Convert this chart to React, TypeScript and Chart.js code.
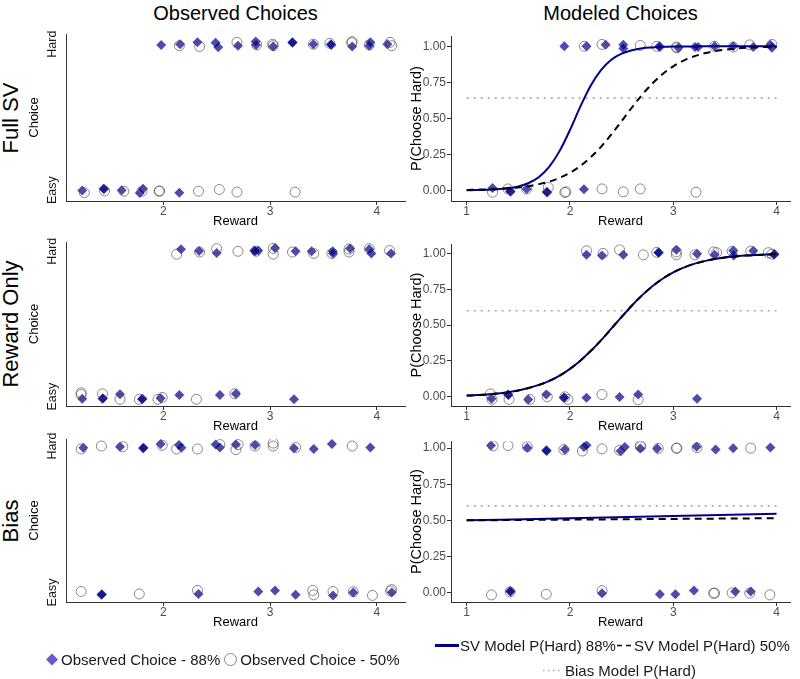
import React, { useEffect, useRef } from "react";
import { Chart, registerables } from "chart.js";
Chart.register(...registerables);

const FONT = "'Liberation Sans', Arial, Helvetica, sans-serif";
Chart.defaults.font.family = FONT;

type Pt = [number, number];

// ---------- text ----------
const colTitles = ["Observed Choices", "Modeled Choices"];
const rowNames = ["Full SV", "Reward Only", "Bias"];
const choiceTickValues = [1, 0];
const choiceTickLabels = ["Hard", "Easy"];
const leftXTicks = [2, 3, 4];
const rightXTicks = [1, 2, 3, 4];
const probTicks = [0, 0.25, 0.5, 0.75, 1];

// ---------- model curves ----------
const curveX = [1.0, 1.1, 1.2, 1.3, 1.4, 1.5, 1.6, 1.7, 1.8, 1.9, 2.0, 2.1, 2.2, 2.3, 2.4, 2.5, 2.6, 2.7, 2.8, 2.9, 3.0, 3.1, 3.2, 3.3, 3.4, 3.5, 3.6, 3.7, 3.8, 3.9, 4.0];
const fullSV88 = [0.001, 0.002, 0.004, 0.008, 0.014, 0.027, 0.051, 0.093, 0.165, 0.274, 0.419, 0.581, 0.726, 0.835, 0.907, 0.949, 0.973, 0.986, 0.992, 0.996, 0.998, 0.999, 0.999, 1.0, 1.0, 1.0, 1.0, 1.0, 1.0, 1.0, 1.0];
const fullSV50 = [0.003, 0.005, 0.007, 0.010, 0.014, 0.020, 0.029, 0.043, 0.061, 0.087, 0.122, 0.169, 0.229, 0.302, 0.388, 0.481, 0.575, 0.665, 0.743, 0.809, 0.861, 0.901, 0.930, 0.951, 0.966, 0.976, 0.984, 0.989, 0.992, 0.995, 0.996];
const rewardOnly88 = [0.009, 0.012, 0.017, 0.023, 0.032, 0.044, 0.061, 0.083, 0.111, 0.148, 0.195, 0.252, 0.319, 0.394, 0.475, 0.557, 0.637, 0.709, 0.772, 0.825, 0.868, 0.901, 0.927, 0.946, 0.961, 0.972, 0.979, 0.985, 0.989, 0.992, 0.994];
const rewardOnly50 = [0.009, 0.012, 0.017, 0.023, 0.032, 0.044, 0.061, 0.083, 0.111, 0.148, 0.195, 0.252, 0.319, 0.394, 0.475, 0.557, 0.637, 0.709, 0.772, 0.825, 0.868, 0.901, 0.927, 0.946, 0.961, 0.972, 0.979, 0.985, 0.989, 0.992, 0.994];
const biasX = [1, 2, 3, 4];
const bias88 = [0.5, 0.515, 0.53, 0.545];
const bias50 = [0.5, 0.505, 0.51, 0.515];
const biasLevelX = [1, 4];
const biasLevel = [0.64, 0.6, 0.6];

// ---------- observed points (reward, choice with jitter) ----------
const obsFull88: Pt[] = [[1.98, 0.995], [2.157, 1.0], [2.32, 1.013], [2.49, 1.01], [2.515, 0.98], [2.7, 0.99], [2.866, 1.018], [2.87, 0.995], [3.03, 0.985], [3.21, 1.013], [3.21, 1.01], [3.406, 1.0], [3.57, 1.0], [3.575, 0.995], [3.77, 0.985], [3.94, 1.013], [3.93, 0.99], [4.1, 1.0],
  [1.24, -0.002], [1.44, 0.01], [1.445, 0.008], [1.61, 0.0], [1.78, -0.02], [1.81, 0.01], [2.15, -0.018]];
const obsFull50: Pt[] = [[2.15, 0.99], [2.34, 0.985], [2.69, 1.013], [2.875, 0.995], [3.025, 1.0], [3.03, 0.99], [3.406, 1.0], [3.56, 1.006], [3.77, 1.018], [3.765, 1.01], [3.93, 0.995], [4.125, 1.013], [4.14, 0.99],
  [1.26, -0.017], [1.45, -0.005], [1.63, -0.007], [1.8, -0.007], [1.96, -0.007], [1.965, -0.005], [2.33, -0.007], [2.525, 0.005], [2.69, -0.013], [3.235, -0.013]];
const obsReward88: Pt[] = [[2.166, 1.014], [2.335, 1.002], [2.5, 0.988], [2.853, 1.005], [2.89, 1.005], [2.86, 1.0], [3.047, 1.023], [3.24, 1.0], [3.39, 1.0], [3.588, 1.0], [3.59, 0.985], [3.75, 1.02], [3.93, 1.014], [3.95, 0.985], [4.134, 0.985],
  [1.24, -0.014], [1.43, -0.014], [1.435, -0.01], [1.594, 0.016], [1.8, -0.018], [1.805, -0.014], [1.975, -0.01], [2.15, 0.011], [2.53, 0.011], [2.68, 0.02], [3.225, -0.018]];
const obsReward50: Pt[] = [[2.125, 0.98], [2.34, 0.995], [2.5, 1.018], [2.7, 1.0], [2.87, 1.0], [3.03, 1.02], [3.03, 0.98], [3.21, 0.995], [3.41, 0.985], [3.58, 0.985], [3.74, 0.995], [3.74, 1.015], [3.93, 1.018], [4.12, 1.005],
  [1.23, 0.027], [1.23, 0.015], [1.43, 0.02], [1.594, -0.018], [1.775, -0.018], [1.95, -0.018], [1.99, -0.005], [2.31, -0.018], [2.67, 0.02]];
const obsBias88: Pt[] = [[1.25, 0.988], [1.594, 0.995], [1.81, 0.985], [1.815, 0.988], [1.975, 1.014], [2.147, 1.007], [2.17, 0.988], [2.49, 1.01], [2.53, 0.99], [2.68, 1.01], [2.86, 1.007], [3.225, 0.985], [3.41, 0.98], [3.58, 1.014], [3.94, 0.99],
  [1.42, -0.016], [1.425, -0.012], [2.33, -0.011], [2.89, 0.007], [3.047, 0.014], [3.24, -0.016], [3.59, -0.02], [3.78, 0.0], [4.14, 0.0]];
const obsBias50: Pt[] = [[1.23, 0.98], [1.42, 1.0], [1.62, 0.995], [1.99, 1.005], [2.125, 0.98], [2.32, 0.98], [2.53, 1.01], [2.68, 0.975], [2.7, 1.01], [2.86, 1.0], [3.03, 1.02], [3.03, 1.0], [3.24, 0.99], [3.77, 1.0],
  [1.23, 0.007], [1.775, -0.01], [2.32, 0.014], [3.4, 0.014], [3.41, -0.016], [3.59, 0.007], [3.78, 0.005], [3.96, -0.02], [4.14, 0.02], [4.13, 0.01]];

const modFull88: Pt[] = [[1.945, 1.0], [2.16, 1.0], [2.345, 1.01], [2.516, 1.01], [2.516, 0.985], [2.865, 1.0], [2.87, 0.995], [3.05, 0.99], [3.21, 0.995], [3.24, 0.995], [3.4, 1.0], [3.58, 1.0], [3.775, 0.995], [3.94, 1.01], [3.955, 0.99],
  [1.25, 0.016], [1.42, -0.005], [1.425, -0.01], [1.58, 0.01], [1.775, -0.01], [1.78, -0.015], [2.135, 0.007]];
const modFull50: Pt[] = [[2.14, 1.0], [2.31, 1.013], [2.68, 1.006], [2.84, 1.0], [3.03, 0.995], [3.035, 0.99], [3.4, 1.0], [3.58, 0.995], [3.74, 1.01], [3.955, 1.013],
  [1.25, -0.013], [1.4, 0.01], [1.58, 0.01], [1.79, 0.02], [1.95, -0.015], [1.96, -0.01], [2.31, 0.01], [2.516, -0.01], [2.68, 0.01], [3.22, -0.013]];
const modReward88: Pt[] = [[2.16, 0.99], [2.31, 0.985], [2.516, 0.99], [2.855, 1.007], [2.86, 1.005], [3.03, 1.025], [3.23, 0.997], [3.4, 0.99], [3.58, 1.018], [3.585, 0.985], [3.775, 1.018], [3.975, 0.99], [3.98, 0.995],
  [1.24, -0.014], [1.4, 0.016], [1.405, 0.012], [1.596, -0.018], [1.77, 0.016], [1.94, -0.007], [1.945, -0.004], [2.16, -0.007], [2.48, -0.002], [2.66, 0.016], [3.23, -0.014]];
const modReward50: Pt[] = [[2.16, 1.018], [2.32, 1.0], [2.48, 1.025], [2.71, 0.99], [2.84, 1.007], [3.03, 0.99], [3.03, 1.01], [3.21, 0.99], [3.39, 1.01], [3.42, 1.005], [3.57, 1.015], [3.75, 1.015], [3.92, 1.005], [3.955, 0.995],
  [1.23, 0.02], [1.245, -0.018], [1.41, -0.018], [1.61, -0.018], [1.78, 0.0], [1.95, 0.0], [1.98, -0.018], [2.31, 0.016], [2.66, -0.02]];
const modBias88: Pt[] = [[1.235, 1.018], [1.587, 1.003], [1.77, 0.985], [1.775, 0.98], [1.95, 0.99], [2.135, 1.007], [2.16, 1.02], [2.49, 0.98], [2.53, 1.007], [2.68, 0.998], [2.845, 0.998], [3.226, 1.01], [3.41, 0.99], [3.58, 1.0], [3.94, 1.005],
  [1.42, 0.011], [1.425, 0.006], [2.31, -0.004], [2.87, -0.011], [3.02, -0.011], [3.2, 0.014], [3.6, 0.007], [3.75, 0.007]];
const modBias50: Pt[] = [[1.255, 1.015], [1.4, 1.018], [1.587, 1.01], [1.94, 0.99], [2.12, 0.98], [2.31, 0.995], [2.48, 0.985], [2.68, 1.018], [2.685, 1.01], [2.855, 0.998], [3.03, 1.0], [3.035, 1.0], [3.23, 1.003], [3.75, 1.0],
  [1.24, -0.016], [1.42, 0.005], [1.77, -0.011], [2.31, 0.014], [3.39, -0.004], [3.4, -0.004], [3.57, -0.002], [3.74, -0.004], [3.935, -0.016]];

const legendLabels = ["Observed Choice - 88%", "Observed Choice - 50%", "SV Model P(Hard) 88%", "SV Model P(Hard) 50%", "Bias Model P(Hard)"];

// ---------- layout (pixels) ----------
const ROWS = [
  { top: 34, bottom: 201, yMin: -0.074, yMax: 1.07 },
  { top: 242, bottom: 406, yMin: -0.064, yMax: 1.064 },
  { top: 439, bottom: 602, yMin: -0.065, yMax: 1.048 },
];
const COLS = [
  { canvasLeft: 27, plotLeft: 66, plotRight: 405, xMin: 1.088, xMax: 4.265 },
  { canvasLeft: 408, plotLeft: 451, plotRight: 790, xMin: 0.848, xMax: 4.13 },
];
const PADT = 6;
const PADR = 8;
const XH = 28;

const DIAMOND = "rgba(0,0,139,0.7)";
const CIRCLE = "rgba(70,70,70,0.62)";
const AXIS = "#333333";
const TICKTXT = "#4d4d4d";

const obs88 = [obsFull88, obsReward88, obsBias88];
const obs50 = [obsFull50, obsReward50, obsBias50];
const mod88 = [modFull88, modReward88, modBias88];
const mod50 = [modFull50, modReward50, modBias50];
const curveXs = [curveX, curveX, biasX];
const curves88 = [fullSV88, rewardOnly88, bias88];
const curves50 = [fullSV50, rewardOnly50, bias50];

const toXY = (p: Pt[]) => p.map(([x, y]) => ({ x, y }));

const choiceTickPlugin = {
  id: "choiceTicks",
  afterDraw(chart: any) {
    const ys = chart.scales.y;
    const ctx = chart.ctx;
    ctx.save();
    ctx.font = `12.5px ${FONT}`;
    ctx.fillStyle = "#1a1a1a";
    ctx.textAlign = "center";
    ctx.textBaseline = "middle";
    choiceTickValues.forEach((v, i) => {
      ctx.save();
      ctx.translate(chart.chartArea.left - 13, ys.getPixelForValue(v));
      ctx.rotate(-Math.PI / 2);
      ctx.fillText(choiceTickLabels[i], 0, 0);
      ctx.restore();
    });
    ctx.restore();
  },
};

function canvasBox(ci: number, ri: number) {
  const c = COLS[ci];
  const r = ROWS[ri];
  const top = r.top - PADT;
  return { left: c.canvasLeft, top, width: c.plotRight + PADR - c.canvasLeft, height: r.bottom + XH - top };
}

function buildConfig(ci: number, ri: number): any {
  const c = COLS[ci];
  const r = ROWS[ri];
  const datasets: any[] = [];
  if (ci === 1) {
    const xs = curveXs[ri];
    datasets.push({
      data: xs.map((x, i) => ({ x, y: curves50[ri][i] })),
      showLine: true, borderColor: "#000000", borderWidth: 2, borderDash: [7, 5],
      pointRadius: 0, pointHoverRadius: 0, cubicInterpolationMode: "monotone", fill: false,
    });
    datasets.push({
      data: xs.map((x, i) => ({ x, y: curves88[ri][i] })),
      showLine: true, borderColor: "#00008B", borderWidth: 2,
      pointRadius: 0, pointHoverRadius: 0, cubicInterpolationMode: "monotone", fill: false,
    });
    datasets.push({
      data: biasLevelX.map((x) => ({ x, y: biasLevel[ri] })),
      showLine: true, borderColor: "#a9a9a9", borderWidth: 1.6, borderDash: [2, 5],
      pointRadius: 0, pointHoverRadius: 0, fill: false,
    });
  }
  const p50 = ci === 0 ? obs50[ri] : mod50[ri];
  const p88 = ci === 0 ? obs88[ri] : mod88[ri];
  datasets.push({
    data: toXY(p50), pointStyle: "circle", pointRadius: 5, pointHoverRadius: 5,
    backgroundColor: "rgba(0,0,0,0)", borderColor: CIRCLE, borderWidth: 1,
  });
  datasets.push({
    data: toXY(p88), pointStyle: "rectRot", pointRadius: 5, pointHoverRadius: 5,
    backgroundColor: DIAMOND, borderColor: DIAMOND, borderWidth: 0,
  });

  const xTicks = ci === 0 ? leftXTicks : rightXTicks;
  return {
    type: "scatter",
    data: { datasets },
    plugins: ci === 0 ? [choiceTickPlugin] : [],
    options: {
      animation: false,
      responsive: false,
      events: [],
      layout: { padding: { top: PADT, right: PADR, left: 0, bottom: 0 } },
      plugins: { legend: { display: false }, tooltip: { enabled: false } },
      scales: {
        x: {
          type: "linear",
          min: c.xMin,
          max: c.xMax,
          afterFit: (s: any) => { s.height = XH; },
          afterBuildTicks: (s: any) => { s.ticks = xTicks.map((v) => ({ value: v })); },
          ticks: { color: TICKTXT, font: { size: 12, lineHeight: 1 }, padding: 1, maxRotation: 0, callback: (v: any) => String(v) },
          grid: { display: true, drawOnChartArea: false, drawTicks: true, tickLength: 4, color: AXIS },
          border: { display: true, color: AXIS, width: 1 },
          title: { display: true, text: "Reward", color: "#000", font: { size: 13 }, padding: 0 },
        },
        y: {
          type: "linear",
          min: r.yMin,
          max: r.yMax,
          afterFit: (s: any) => { s.width = c.plotLeft - c.canvasLeft; },
          afterBuildTicks: (s: any) => {
            s.ticks = (ci === 0 ? choiceTickValues : probTicks).map((v) => ({ value: v }));
          },
          ticks: ci === 0
            ? { display: false }
            : { color: TICKTXT, font: { size: 12 }, padding: 1, callback: (v: any) => Number(v).toFixed(2) },
          grid: ci === 0
            ? { display: false }
            : { display: true, drawOnChartArea: false, drawTicks: true, tickLength: 4, color: AXIS },
          border: { display: true, color: AXIS, width: 1 },
          title: {
            display: true,
            text: ci === 0 ? "Choice" : "P(Choose Hard)",
            color: "#000",
            font: { size: ci === 0 ? 13 : 14.5 },
            padding: 0,
          },
        },
      },
    },
  };
}

const PANELS = [0, 1, 2].flatMap((ri) => [0, 1].map((ci) => ({ ci, ri })));

function Panel({ ci, ri }: { ci: number; ri: number }) {
  const ref = useRef<HTMLCanvasElement | null>(null);
  const box = canvasBox(ci, ri);
  useEffect(() => {
    if (!ref.current) return;
    const chart = new Chart(ref.current, buildConfig(ci, ri));
    return () => chart.destroy();
  }, [ci, ri]);
  return (
    <canvas
      ref={ref}
      width={box.width}
      height={box.height}
      style={{ position: "absolute", left: box.left, top: box.top, width: box.width, height: box.height }}
    />
  );
}

const textBase: React.CSSProperties = { position: "absolute", fontFamily: FONT, color: "#000", whiteSpace: "nowrap" };

export default function App() {
  return (
    <div style={{ position: "fixed", left: 0, top: 0, width: 800, height: 679, background: "#fff", overflow: "hidden" }}>
      {colTitles.map((t, i) => (
        <div key={t} style={{ ...textBase, left: COLS[i].plotLeft, width: COLS[i].plotRight - COLS[i].plotLeft, top: 1, textAlign: "center", fontSize: 20, lineHeight: "24px" }}>{t}</div>
      ))}
      {rowNames.map((t, i) => (
        <div key={t} style={{ ...textBase, left: 11, top: (ROWS[i].top + ROWS[i].bottom) / 2, transform: "translate(-50%,-50%) rotate(-90deg)", fontSize: 22, lineHeight: "22px" }}>{t}</div>
      ))}
      {PANELS.map(({ ci, ri }) => <Panel key={`${ci}-${ri}`} ci={ci} ri={ri} />)}

      {/* legend: observed */}
      <div style={{ ...textBase, left: 45, top: 659, transform: "translateY(-50%)", display: "flex", alignItems: "center", fontSize: 15, color: "#1a1a1a" }}>
        <svg width={14} height={14} style={{ marginRight: 2 }}>
          <polygon points="7,1 13,7 7,13 1,7" fill="#6a5acd" />
        </svg>
        <span>{legendLabels[0]}</span>
        <svg width={15} height={14} style={{ marginLeft: 3, marginRight: 2 }}>
          <circle cx={7.5} cy={7} r={6} fill="none" stroke="#888" strokeWidth={1} />
        </svg>
        <span>{legendLabels[1]}</span>
      </div>

      {/* legend: model lines */}
      <div style={{ ...textBase, left: 435, top: 645, transform: "translateY(-50%)", display: "flex", alignItems: "center", fontSize: 15, color: "#1a1a1a" }}>
        <svg width={24} height={6} style={{ marginRight: 1 }}>
          <line x1={0} y1={3} x2={24} y2={3} stroke="#00008B" strokeWidth={3} />
        </svg>
        <span>{legendLabels[2]}</span>
        <svg width={16} height={6} style={{ marginLeft: 1, marginRight: 1 }}>
          <line x1={0} y1={3} x2={16} y2={3} stroke="#000" strokeWidth={1.5} strokeDasharray="5,4" />
        </svg>
        <span>{legendLabels[3]}</span>
      </div>
      <div style={{ ...textBase, left: 542, top: 670, transform: "translateY(-50%)", display: "flex", alignItems: "center", fontSize: 15, color: "#1a1a1a" }}>
        <svg width={21} height={6} style={{ marginRight: 2 }}>
          <line x1={1} y1={3} x2={21} y2={3} stroke="#aaa" strokeWidth={1.5} strokeDasharray="1.5,3.5" />
        </svg>
        <span>{legendLabels[4]}</span>
      </div>
    </div>
  );
}
